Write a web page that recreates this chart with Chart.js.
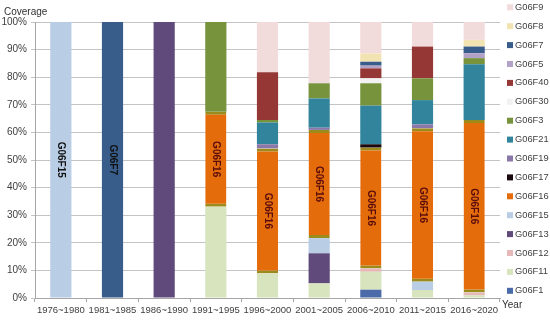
<!DOCTYPE html>
<html>
<head>
<meta charset="utf-8">
<script src="https://cdn.jsdelivr.net/npm/chart.js@4"></script>
<style>
  body { margin: 0; background: #fff; }
  #wrap { width: 550px; height: 321px; }
</style>
</head>
<body>
<div id="wrap"><canvas id="chartCoverage" width="550" height="321"></canvas></div>
<script>
// categories
const years = ['1976~1980', '1981~1985', '1986~1990', '1991~1995', '1996~2000', '2001~2005', '2006~2010', '2011~2015', '2016~2020'];

// series values (% of each period), bottom of stack first
const G06F1  = [0, 0, 0, 0, 0, 0, 3.0, 0, 0];
const G06F11 = [0, 0, 0, 33.1, 8.9, 5.3, 6.5, 2.9, 1.0];
const G06F12 = [0, 0, 0, 0, 0, 0, 1.2, 0, 1.0];
const G06F13 = [0, 0, 100, 0, 0, 10.9, 0, 0, 0];
const G06F15 = [100, 0, 0, 0, 0, 5.5, 0, 3.0, 0];
const G06F16 = [0, 0, 0, 34.4, 45.3, 39.2, 43.8, 55.6, 62.5];
const G06F17 = [0, 0, 0, 0, 0, 0, 1.2, 0, 0];
const G06F19 = [0, 0, 0, 0, 1.5, 0.8, 0, 1.4, 0];
const G06F21 = [0, 0, 0, 0, 7.9, 10.6, 14.0, 8.8, 20.2];
const G06F3  = [0, 0, 0, 32.5, 0.9, 5.5, 8.1, 7.9, 2.2];
const G06F30 = [0, 0, 0, 0, 0, 0, 1.8, 0, 0];
const G06F40 = [0, 0, 0, 0, 17.3, 0, 3.6, 11.5, 0];
const G06F5  = [0, 0, 0, 0, 0, 0, 1.0, 0, 1.8];
const G06F7  = [0, 100, 0, 0, 0, 0, 1.4, 0, 2.4];
const G06F8  = [0, 0, 0, 0, 0, 0, 3.0, 0, 2.4];
const G06F9  = [0, 0, 0, 0, 18.2, 22.2, 11.4, 8.9, 6.5];

// which series gets the rotated label in each bar
const barLabels = ['G06F15', 'G06F7', '', 'G06F16', 'G06F16', 'G06F16', 'G06F16', 'G06F16', 'G06F16'];

// y tick labels
const yTicks = ['0%', '10%', '20%', '30%', '40%', '50%', '60%', '70%', '80%', '90%', '100%'];

let series = [
    ['G06F1', G06F1, '#4a6aa9'],
    ['G06F11', G06F11, '#d7e4bd'],
    ['G06F12', G06F12, '#e6b9b8'],
    ['G06F13', G06F13, '#604a7b'],
    ['G06F15', G06F15, '#b9cde5'],
    ['G06F16', G06F16, '#e46c0a'],
    ['G06F17', G06F17, '#1a0a10'],
    ['G06F19', G06F19, '#8a78a8'],
    ['G06F21', G06F21, '#31849b'],
    ['G06F3', G06F3, '#77933c'],
    ['G06F30', G06F30, '#f2f2f2'],
    ['G06F40', G06F40, '#953735'],
    ['G06F5', G06F5, '#b3a2c7'],
    ['G06F7', G06F7, '#385d8a'],
    ['G06F8', G06F8, '#f2e3b3'],
    ['G06F9', G06F9, '#f2dcdb']
];

let datasets = series.map(s => ({
    label: s[0],
    data: s[1],
    backgroundColor: s[2],
    borderColor: s[0] === 'G06F16' ? '#9b8a1c' : s[2],
    borderWidth: s[0] === 'G06F16' ? {top: 3, bottom: 3, left: 0, right: 0} : 0,
    borderSkipped: false,
    categoryPercentage: 1,
    barPercentage: 0.41
}));

const font = 'Liberation Sans, Arial, sans-serif';

// rotated labels, axis titles and the legend
let extras = {
    id: 'extras',
    afterDatasetsDraw(chart) {
        let ctx = chart.ctx;
        ctx.save();
        ctx.font = 'bold 10px ' + font;
        ctx.textAlign = 'center';
        ctx.textBaseline = 'middle';
        barLabels.forEach((name, i) => {
            if (!name) return;
            let di = chart.data.datasets.findIndex(d => d.label === name);
            let el = chart.getDatasetMeta(di).data[i];
            ctx.save();
            ctx.translate(el.x, (el.y + el.base) / 2);
            ctx.rotate(Math.PI / 2);
            ctx.fillStyle = name === 'G06F16' ? '#5a0c0c' : '#111111';
            ctx.fillText(name, 0, 0);
            ctx.restore();
        });
        ctx.restore();
    },
    afterDraw(chart) {
        let ctx = chart.ctx;
        let area = chart.chartArea;
        ctx.save();
        ctx.fillStyle = '#303030';
        ctx.font = '10px ' + font;
        ctx.textBaseline = 'middle';
        ctx.textAlign = 'left';
        ctx.fillText('Coverage', 4, 12);
        ctx.fillText('Year', area.right + 2, 305);

        // legend, top item is the top of the stack
        ctx.font = '9.3px ' + font;
        let items = chart.data.datasets.slice().reverse();
        items.forEach((d, i) => {
            let y = 7.3 + i * 18.9;
            ctx.fillStyle = d.backgroundColor;
            ctx.fillRect(area.right + 7, y - 3, 6, 6);
            ctx.fillStyle = '#404040';
            ctx.fillText(d.label, area.right + 15, y);
        });
        ctx.restore();
    }
};

let ctxCoverage = document.querySelector('#chartCoverage').getContext('2d');

let config = {
    type: 'bar',
    data: {
        labels: years,
        datasets: datasets
    },
    options: {
        responsive: false,
        animation: false,
        layout: {
            padding: {top: 22, right: 50, left: 0, bottom: 0}
        },
        plugins: {
            legend: {display: false},
            tooltip: {enabled: false}
        },
        scales: {
            x: {
                stacked: true,
                afterFit(scale) { scale.height = 23; },
                grid: {
                    drawOnChartArea: false,
                    offset: true,
                    tickLength: 4,
                    color: '#a6a6a6'
                },
                border: {color: '#a6a6a6'},
                ticks: {
                    color: '#404040',
                    font: {family: font, size: 9.5},
                    padding: 3,
                    maxRotation: 0,
                    autoSkip: false
                }
            },
            y: {
                stacked: true,
                min: 0,
                max: 100,
                afterFit(scale) { scale.width = 35; },
                grid: {
                    color: '#c4c4c4',
                    tickLength: 4
                },
                border: {color: '#a6a6a6'},
                ticks: {
                    stepSize: 10,
                    color: '#404040',
                    font: {family: font, size: 10},
                    padding: 4,
                    callback: (v, i) => yTicks[i]
                }
            }
        }
    },
    plugins: [extras]
};

let chartCoverage = new Chart(ctxCoverage, config);
</script>
</body>
</html>
